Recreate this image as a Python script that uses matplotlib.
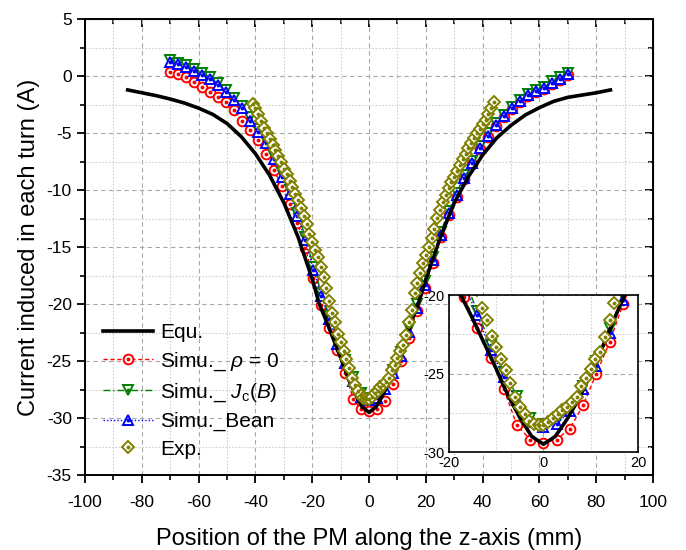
import matplotlib

matplotlib.use("Agg")
import matplotlib.pyplot as plt
from matplotlib.legend_handler import HandlerTuple
from matplotlib.ticker import MultipleLocator


# Analytical curve (Equ.)
EQU_X = [-85, -80, -75, -70, -65, -60, -55, -50, -45, -40, -35, -30, -25, -20,
         -17.5, -15, -12.5, -10, -7.5, -5, -2.5, 0, 2.5, 5, 7.5, 10, 12.5, 15,
         17.5, 20, 25, 30, 35, 40, 45, 50, 55, 60, 65, 70, 75, 80, 85]
EQU_Y = [-1.2, -1.45, -1.7, -2.0, -2.35, -2.8, -3.35, -4.15, -5.3, -6.8, -8.7,
         -11.1, -14.1, -17.8, -20.0, -21.5, -23.1, -24.7, -26.4, -27.8, -29.0,
         -29.5, -29.0, -27.9, -26.6, -25.0, -23.3, -21.5, -19.8, -17.8, -14.2,
         -11.1, -8.8, -6.9, -5.4, -4.3, -3.4, -2.75, -2.2, -1.85, -1.65, -1.45,
         -1.2]

# Simulation sample positions (mm)
SIM_X = [-70.0, -67.2, -64.4, -61.6, -58.8, -56.0, -53.2, -50.4, -47.6, -44.8,
         -42.0, -39.2, -36.4, -33.6, -30.8, -28.0, -25.2, -22.4, -19.6, -16.8,
         -14.0, -11.2, -8.4, -5.6, -2.8, 0.0, 2.8, 5.6, 8.4, 11.2, 14.0, 16.8,
         19.6, 22.4, 25.2, 28.0, 30.8, 33.6, 36.4, 39.2, 42.0, 44.8, 47.6, 50.4,
         53.2, 56.0, 58.8, 61.6, 64.4, 67.2, 70.0]
RHO0_Y = [0.4, 0.2, -0.1, -0.5, -0.9, -1.4, -1.8, -2.3, -3.0, -3.9,
          -4.7, -5.6, -6.8, -8.2, -9.6, -11.2, -12.9, -15.1, -17.7, -20.1,
          -22.1, -24.0, -26.0, -28.3, -29.2, -29.4, -29.2, -28.5, -27.0, -25.0,
          -23.0, -20.6, -18.6, -16.4, -14.1, -12.2, -10.6, -9.0, -7.7, -6.4,
          -5.3, -4.4, -3.6, -2.9, -2.25, -1.75, -1.4, -1.1, -0.65, -0.3, 0.1]
JCB_Y = [1.4, 1.2, 0.95, 0.6, 0.3, -0.05, -0.6, -1.2, -1.9, -2.6,
         -3.6, -4.6, -5.6, -7.0, -8.5, -10.0, -12.0, -14.1, -16.7, -19.0,
         -21.0, -23.2, -24.9, -26.4, -27.8, -28.2, -28.0, -27.2, -25.8, -24.2,
         -22.1, -20.0, -18.0, -15.9, -13.7, -11.8, -10.2, -8.7, -7.4, -6.1,
         -5.0, -4.1, -3.4, -2.7, -2.05, -1.55, -1.2, -0.9, -0.45, -0.1, 0.25]
BEAN_Y = [1.25, 1.05, 0.8, 0.45, 0.15, -0.2, -0.8, -1.4, -2.1, -2.8,
          -3.9, -4.9, -5.9, -7.3, -8.8, -10.3, -12.3, -14.4, -17.0, -19.3,
          -21.3, -23.5, -25.2, -26.7, -28.1, -28.4, -28.2, -27.4, -26.0, -24.5,
          -22.4, -20.3, -18.3, -16.1, -13.9, -12.0, -10.4, -8.9, -7.6, -6.3,
          -5.2, -4.3, -3.5, -2.8, -2.15, -1.65, -1.3, -1.0, -0.55, -0.2, 0.2]

# Measurement
EXP_X = [-41, -40, -39, -38, -37, -36, -35, -34, -33, -32, -31, -30, -29, -28,
         -27, -26, -25, -24, -23, -22, -21, -20, -19, -18, -17, -16, -15, -14,
         -13, -12, -11, -10, -9, -8, -7, -6, -5, -4, -3, -2, -1, 0, 1, 2, 3, 4,
         5, 6, 7, 8, 9, 10, 11, 12, 13, 14, 15, 16, 17, 18, 19, 20, 21, 22, 23,
         24, 25, 26, 27, 28, 29, 30, 31, 32, 33, 34, 35, 36, 37, 38, 39, 40, 41,
         42, 43, 44]
EXP_Y = [-2.4, -2.8, -3.3, -3.9, -4.5, -5.0, -5.5, -6.0, -6.5, -7.0, -7.5, -8.1,
         -8.6, -9.2, -9.7, -10.3, -10.9, -11.6, -12.3, -13.0, -13.8, -14.5,
         -15.2, -15.9, -16.7, -17.6, -18.6, -19.7, -20.8, -21.6, -22.6, -23.3,
         -24.1, -24.8, -25.6, -26.5, -27.1, -27.6, -28.0, -28.2, -28.3, -28.3,
         -28.1, -27.8, -27.6, -27.3, -27.1, -26.8, -26.5, -25.8, -25.3, -24.7,
         -24.1, -23.6, -22.7, -21.6, -20.5, -19.0, -18.1, -17.3, -16.4, -15.7,
         -15.0, -14.2, -13.4, -12.4, -11.7, -11.0, -10.4, -9.8, -9.3, -8.8, -8.3,
         -7.8, -7.3, -6.8, -6.3, -5.9, -5.4, -5.0, -4.6, -4.2, -3.8, -3.3, -2.8,
         -2.3]

OLIVE = "#808000"


def draw_series(axis, marker_size, dot_size):
    handles = []
    specs = [
        (RHO0_Y, "red", (0, (3, 2)), "o"),
        (JCB_Y, "#008000", (0, (5, 2, 1, 2)), "v"),
        (BEAN_Y, "blue", (0, (1, 1.5)), "^"),
    ]
    for y, color, dashes, marker in specs:
        (line,) = axis.plot(SIM_X, y, color=color, linestyle=dashes,
                            linewidth=1.0, marker=marker,
                            markersize=marker_size, markerfacecolor="white",
                            markeredgecolor=color, markeredgewidth=1.4)
        (dot,) = axis.plot(SIM_X, y, linestyle="none", marker="o",
                           markersize=dot_size, color=color)
        handles.append((line, dot))

    (equ,) = axis.plot(EQU_X, EQU_Y, color="black", linewidth=2.6)

    (exp_line,) = axis.plot(EXP_X, EXP_Y, linestyle="none", marker="D",
                            markersize=marker_size * 0.82,
                            markerfacecolor="white", markeredgecolor=OLIVE,
                            markeredgewidth=1.4)
    (exp_dot,) = axis.plot(EXP_X, EXP_Y, linestyle="none", marker="o",
                           markersize=dot_size, color=OLIVE)
    return equ, handles, (exp_line, exp_dot)


def style_grid(axis):
    axis.grid(which="major", color="#a8a8a8", linestyle=(0, (4, 3)),
              linewidth=0.8)
    axis.grid(which="minor", color="#d0d0d0", linestyle=(0, (1.5, 1.5)),
              linewidth=0.8)
    axis.set_axisbelow(True)


def main():
    plt.rcParams["font.family"] = ["Liberation Sans", "DejaVu Sans"]
    plt.rcParams["mathtext.fontset"] = "custom"
    plt.rcParams["mathtext.rm"] = "Liberation Sans"
    plt.rcParams["mathtext.it"] = "Liberation Sans:italic"
    plt.rcParams["axes.unicode_minus"] = False

    figure = plt.figure(figsize=(6.86, 5.5), dpi=100)
    axis = figure.add_axes([0.124, 0.136, 0.828, 0.829])

    equ, sims, exp = draw_series(axis, 7, 1.8)

    axis.set_xlim(-100, 100)
    axis.set_ylim(-35, 5)
    axis.xaxis.set_major_locator(MultipleLocator(20))
    axis.xaxis.set_minor_locator(MultipleLocator(10))
    axis.yaxis.set_major_locator(MultipleLocator(5))
    axis.yaxis.set_minor_locator(MultipleLocator(2.5))
    style_grid(axis)
    axis.tick_params(which="major", direction="out", length=6, width=1.3,
                     labelsize=12.5)
    axis.tick_params(which="minor", direction="out", length=3.5, width=1.2)
    axis.tick_params(axis="x", which="major", pad=8)
    for spine in axis.spines.values():
        spine.set_linewidth(1.4)

    top = axis.secondary_xaxis("top")
    top.xaxis.set_major_locator(MultipleLocator(20))
    top.xaxis.set_minor_locator(MultipleLocator(10))
    top.tick_params(which="major", direction="in", length=6, width=1.3,
                    labeltop=False)
    top.tick_params(which="minor", direction="in", length=3.5, width=1.2)
    right = axis.secondary_yaxis("right")
    right.yaxis.set_major_locator(MultipleLocator(5))
    right.yaxis.set_minor_locator(MultipleLocator(2.5))
    right.tick_params(which="major", direction="in", length=6, width=1.3,
                      labelright=False)
    right.tick_params(which="minor", direction="in", length=3.5, width=1.2)

    axis.set_xlabel("Position of the PM along the z-axis (mm)", fontsize=17,
                    labelpad=13)
    axis.set_ylabel("Current induced in each turn (A)", fontsize=17,
                    labelpad=5)

    labels = ["Equ.", r"Simu._ $\rho$ = 0", r"Simu._ $J_\mathrm{c}$($B$)",
              "Simu._Bean", "Exp."]
    axis.legend([equ] + sims + [exp], labels,
                handler_map={tuple: HandlerTuple(ndivide=1)},
                loc="upper left", bbox_to_anchor=(0.150, 0.4125),
                bbox_transform=figure.transFigure, frameon=False,
                fontsize=15, handlelength=2.4, handletextpad=0.33,
                labelspacing=0.4, borderpad=0, borderaxespad=0)

    inset = figure.add_axes([0.6545, 0.178, 0.2755, 0.2855])
    draw_series(inset, 7, 1.8)
    inset.set_xlim(-20, 20)
    inset.set_ylim(-30, -20)
    inset.xaxis.set_major_locator(MultipleLocator(20))
    inset.xaxis.set_minor_locator(MultipleLocator(10))
    inset.yaxis.set_major_locator(MultipleLocator(5))
    inset.yaxis.set_minor_locator(MultipleLocator(2.5))
    style_grid(inset)
    inset.tick_params(which="both", direction="in", length=0, labelsize=10.5,
                      pad=3)
    for spine in inset.spines.values():
        spine.set_linewidth(1.2)

    figure.savefig("out.png", dpi=100)
    plt.close(figure)


if __name__ == "__main__":
    main()
